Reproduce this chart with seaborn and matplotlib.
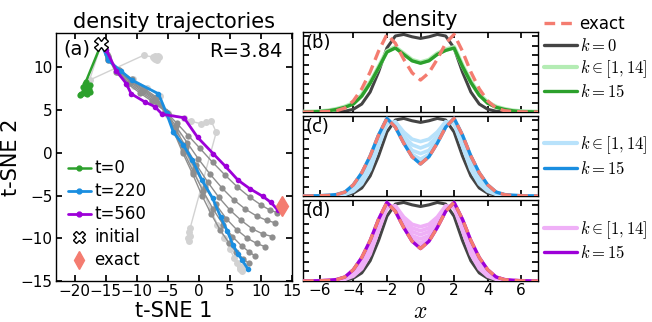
import numpy as np
import matplotlib
matplotlib.use("Agg")
import matplotlib.pyplot as plt
from matplotlib.lines import Line2D
import seaborn as sns

# ---------------- panel (a): t-SNE density trajectories ----------------
initial_pt = (-15.7, 12.75)
exact_pt = (13.4, -6.2)

t0_x = [-15.7, -18.2, -18.0, -18.5, -17.7, -18.9, -17.5, -18.3, -17.9, -18.6, -17.6, -18.4, -18.0, -17.8, -19.1, -18.1]
t0_y = [12.75, 8.3, 7.6, 7.2, 7.5, 6.9, 7.9, 7.0, 7.3, 7.7, 7.1, 8.0, 6.9, 7.6, 6.8, 7.4]

t220_x = [-15.7, -14.6, -12.6, -10.8, -6.5, -5.2, -4.1, -2.5, -1.1, 0.5, 2.2, 3.5, 4.6, 5.5, 6.3, 7.0, 7.9]
t220_y = [12.75, 10.8, 9.6, 8.5, 6.9, 4.6, 2.4, 0.9, -0.8, -3.2, -5.3, -7.5, -9.2, -10.8, -11.8, -12.6, -13.6]

t560_x = [-15.7, -14.9, -13.3, -11.7, -10.9, -8.7, -7.1, -5.9, -2.4, -0.2, 2.3, 4.3, 6.3, 8.2, 10.3, 11.6, 12.7]
t560_y = [12.75, 12.0, 9.6, 8.1, 6.9, 5.95, 5.4, 4.5, 4.1, 1.8, -0.1, -1.6, -3.2, -4.2, -5.1, -5.8, -6.7]

# other times (dark gray)
g1_x = [-15.7, -14.8, -13.4, -11.5, -9.5, -7.5, -5.5, -3.6, -1.7, 0.2, 2.2, 4.2, 6.2, 8.2, 10.0, 11.4, 12.6]
g1_y = [12.75, 11.5, 9.4, 8.1, 7.0, 6.0, 4.9, 3.5, 2.0, 0.5, -1.1, -2.6, -4.0, -5.2, -6.1, -6.7, -7.0]
g2_x = [-15.7, -14.7, -13.2, -11.3, -9.3, -7.3, -5.3, -3.7, -1.9, -0.1, 1.8, 3.7, 5.6, 7.5, 9.3, 10.9, 12.3]
g2_y = [12.75, 11.3, 9.5, 8.2, 7.1, 6.1, 4.8, 3.1, 1.2, -0.7, -2.5, -4.1, -5.5, -6.6, -7.4, -7.9, -8.2]
g3_x = [-15.7, -14.7, -13.1, -11.1, -9.1, -7.1, -5.2, -3.8, -2.1, -0.4, 1.4, 3.2, 5.0, 6.8, 8.6, 10.3, 11.8]
g3_y = [12.75, 11.2, 9.6, 8.3, 7.2, 6.2, 4.7, 2.8, 0.7, -1.4, -3.4, -5.2, -6.7, -7.9, -8.9, -9.5, -9.8]
g4_x = [-15.7, -14.6, -13.0, -11.0, -9.0, -7.0, -5.1, -3.9, -2.3, -0.7, 1.0, 2.7, 4.4, 6.1, 7.8, 9.3, 10.7]
g4_y = [12.75, 11.1, 9.6, 8.4, 7.3, 6.3, 4.6, 2.6, 0.4, -1.8, -4.0, -6.0, -7.7, -9.0, -10.0, -10.6, -11.0]
g5_x = [-15.7, -14.6, -12.9, -10.9, -8.9, -6.9, -5.0, -4.0, -2.5, -0.9, 0.7, 2.3, 3.9, 5.4, 6.9, 8.1, 9.1]
g5_y = [12.75, 11.0, 9.7, 8.5, 7.4, 6.4, 4.5, 2.5, 0.2, -2.2, -4.5, -6.6, -8.4, -9.8, -10.9, -11.6, -12.1]
g6_x = [-15.7, -14.6, -12.8, -10.8, -8.8, -6.8, -5.0, -4.0, -2.6, -1.0, 0.5, 2.0, 3.4, 4.8, 6.0, 7.1, 8.0]
g6_y = [12.75, 10.9, 9.7, 8.6, 7.5, 6.5, 4.5, 2.4, 0.0, -2.5, -5.0, -7.2, -9.0, -10.5, -11.6, -12.4, -12.9]

# early/odd times (light gray)
la_x = [-15.7, -17.6, -8.9, -7.4, -7.0, -6.6, -7.2, -6.8, -6.4, -7.1, -6.9]
la_y = [12.75, 8.5, 11.4, 11.2, 11.0, 11.3, 11.1, 10.9, 11.2, 11.3, 11.0]
lb_x = [-15.7, -14.7, -13.0, -10.5, -7.5, -5.0, -2.4, -1.3, 0.3, 1.2, 2.0, 2.8, -1.4, -1.6, -1.5, -1.7, -1.6]
lb_y = [12.75, 11.0, 9.5, 7.8, 6.2, 4.6, 4.1, 3.7, 3.4, 3.6, 3.7, 2.4, -8.8, -9.3, -9.7, -10.0, -10.3]
lc_x = [-15.7, -14.5, -12.7, -10.6, -8.3, -6.3, -4.9, -3.6, -2.2, -0.8, 0.6, 1.9, 3.0, 4.1, 5.0, 5.7, 6.2, 6.6, 6.9, 6.6, 7.1]
lc_y = [12.75, 10.9, 9.6, 8.6, 7.6, 6.6, 4.4, 2.2, 0.2, -2.1, -4.4, -6.6, -8.4, -10.0, -11.3, -12.3, -12.9, -13.4, -13.8, -13.6, -13.3]

# ---------------- panels (b)-(d): densities on x grid ----------------
x_grid = np.linspace(-7, 7, 29)

rho_exact = [0.0, 0.001, 0.003, 0.007, 0.017, 0.05, 0.14, 0.29, 0.50, 0.76, 0.97, 0.86, 0.66, 0.49, 0.40,
             0.49, 0.66, 0.86, 0.97, 0.76, 0.50, 0.29, 0.14, 0.05, 0.017, 0.007, 0.003, 0.001, 0.0]
rho_k0 = [0.0, 0.0, 0.0, 0.001, 0.003, 0.01, 0.035, 0.10, 0.25, 0.50, 0.80, 0.95, 0.97, 0.94, 0.92,
          0.94, 0.97, 0.95, 0.80, 0.50, 0.25, 0.10, 0.035, 0.01, 0.003, 0.001, 0.0, 0.0, 0.0]

b_k15 = [0.001, 0.003, 0.006, 0.015, 0.033, 0.06, 0.10, 0.20, 0.36, 0.55, 0.75, 0.80, 0.72, 0.64, 0.61,
         0.64, 0.72, 0.77, 0.80, 0.57, 0.37, 0.21, 0.11, 0.06, 0.033, 0.015, 0.006, 0.003, 0.001]
b_mid = [0.002, 0.004, 0.008, 0.018, 0.037, 0.066, 0.11, 0.21, 0.37, 0.56, 0.76, 0.81, 0.73, 0.65, 0.62,
         0.65, 0.73, 0.78, 0.81, 0.58, 0.38, 0.22, 0.12, 0.066, 0.037, 0.018, 0.008, 0.004, 0.002]

c_k15 = [0.0, 0.001, 0.003, 0.008, 0.018, 0.05, 0.14, 0.29, 0.50, 0.76, 0.97, 0.86, 0.66, 0.49, 0.40,
         0.49, 0.66, 0.86, 0.97, 0.76, 0.50, 0.29, 0.14, 0.05, 0.018, 0.008, 0.003, 0.001, 0.0]
c_mid1 = [0.0, 0.0, 0.001, 0.003, 0.008, 0.02, 0.06, 0.15, 0.33, 0.62, 0.90, 0.93, 0.80, 0.71, 0.68,
          0.71, 0.80, 0.93, 0.90, 0.62, 0.33, 0.15, 0.06, 0.02, 0.008, 0.003, 0.001, 0.0, 0.0]
c_mid2 = [0.0, 0.0, 0.002, 0.005, 0.011, 0.028, 0.08, 0.19, 0.39, 0.68, 0.93, 0.91, 0.75, 0.64, 0.60,
          0.64, 0.75, 0.91, 0.93, 0.68, 0.39, 0.19, 0.08, 0.028, 0.011, 0.005, 0.002, 0.0, 0.0]
c_mid3 = [0.0, 0.001, 0.002, 0.006, 0.014, 0.036, 0.10, 0.23, 0.44, 0.73, 0.95, 0.89, 0.71, 0.57, 0.53,
          0.57, 0.71, 0.89, 0.95, 0.73, 0.44, 0.23, 0.10, 0.036, 0.014, 0.006, 0.002, 0.001, 0.0]
c_mid4 = [0.0, 0.001, 0.003, 0.007, 0.016, 0.043, 0.12, 0.26, 0.47, 0.75, 0.96, 0.875, 0.68, 0.52, 0.46,
          0.52, 0.68, 0.875, 0.96, 0.75, 0.47, 0.26, 0.12, 0.043, 0.016, 0.007, 0.003, 0.001, 0.0]
c_mid5 = [0.0, 0.001, 0.003, 0.007, 0.017, 0.047, 0.13, 0.28, 0.49, 0.76, 0.97, 0.865, 0.67, 0.50, 0.43,
          0.50, 0.67, 0.865, 0.97, 0.76, 0.49, 0.28, 0.13, 0.047, 0.017, 0.007, 0.003, 0.001, 0.0]

d_k15 = [0.0, 0.001, 0.003, 0.008, 0.018, 0.05, 0.14, 0.29, 0.50, 0.76, 0.97, 0.86, 0.66, 0.49, 0.40,
         0.49, 0.66, 0.86, 0.97, 0.76, 0.50, 0.29, 0.14, 0.05, 0.018, 0.008, 0.003, 0.001, 0.0]
d_mid1 = [0.0, 0.0, 0.001, 0.003, 0.008, 0.02, 0.06, 0.15, 0.33, 0.62, 0.90, 0.93, 0.79, 0.70, 0.67,
          0.70, 0.79, 0.93, 0.90, 0.62, 0.33, 0.15, 0.06, 0.02, 0.008, 0.003, 0.001, 0.0, 0.0]
d_mid2 = [0.0, 0.0, 0.002, 0.005, 0.011, 0.028, 0.08, 0.19, 0.39, 0.68, 0.93, 0.915, 0.76, 0.655, 0.62,
          0.655, 0.76, 0.915, 0.93, 0.68, 0.39, 0.19, 0.08, 0.028, 0.011, 0.005, 0.002, 0.0, 0.0]
d_mid3 = [0.0, 0.001, 0.002, 0.006, 0.013, 0.033, 0.09, 0.21, 0.42, 0.71, 0.94, 0.90, 0.73, 0.61, 0.57,
          0.61, 0.73, 0.90, 0.94, 0.71, 0.42, 0.21, 0.09, 0.033, 0.013, 0.006, 0.002, 0.001, 0.0]
d_mid4 = [0.0, 0.001, 0.003, 0.007, 0.015, 0.04, 0.11, 0.24, 0.45, 0.74, 0.955, 0.885, 0.70, 0.56, 0.52,
          0.56, 0.70, 0.885, 0.955, 0.74, 0.45, 0.24, 0.11, 0.04, 0.015, 0.007, 0.003, 0.001, 0.0]
d_mid5 = [0.0, 0.001, 0.003, 0.007, 0.016, 0.044, 0.12, 0.26, 0.47, 0.75, 0.96, 0.875, 0.68, 0.525, 0.47,
          0.525, 0.68, 0.875, 0.96, 0.75, 0.47, 0.26, 0.12, 0.044, 0.016, 0.007, 0.003, 0.001, 0.0]
d_mid6 = [0.0, 0.001, 0.003, 0.007, 0.017, 0.047, 0.13, 0.28, 0.49, 0.76, 0.97, 0.865, 0.67, 0.50, 0.43,
          0.50, 0.67, 0.865, 0.97, 0.76, 0.49, 0.28, 0.13, 0.047, 0.017, 0.007, 0.003, 0.001, 0.0]

C_GREEN, C_LGREEN = "#2ca02c", "#b4ecb4"
C_BLUE, C_LBLUE = "#1a8ee0", "#b8e2fb"
C_PURP, C_LPURP = "#9d00d8", "#efb0f7"
C_EXACT = "#f47c70"
C_K0 = "#444444"
C_GRAY, C_LGRAY = "#8e8e8e", "#d2d2d2"

sns.set_theme(style="ticks")
plt.rcParams.update({
    "font.family": ["DejaVu Sans"],
    "mathtext.fontset": "cm",
    "text.color": "black", "axes.labelcolor": "black",
    "xtick.direction": "in", "ytick.direction": "in",
    "xtick.top": True, "ytick.right": True,
    "axes.edgecolor": "black", "axes.linewidth": 1.0,
    "xtick.color": "black", "ytick.color": "black",
    "xtick.major.size": 4, "ytick.major.size": 4,
    "xtick.major.pad": 2.5, "ytick.major.pad": 2.5,
    "xtick.labelsize": 11, "ytick.labelsize": 11,
})

fig = plt.figure(figsize=(6.52, 3.22), dpi=100)
ax_a = fig.add_axes([0.0859, 0.1273, 0.362, 0.770])
ax_b = fig.add_axes([0.4647, 0.652, 0.3605, 0.2486])
ax_c = fig.add_axes([0.4647, 0.3913, 0.3605, 0.2485])
ax_d = fig.add_axes([0.4647, 0.1273, 0.3605, 0.2516])


def traj(ax, xs, ys, color, lw, ms, z):
    sns.lineplot(x=xs, y=ys, sort=False, estimator=None, ax=ax, color=color, lw=lw,
                 marker="o", markersize=ms, markeredgewidth=0, zorder=z)


for xs, ys in [(la_x, la_y), (lb_x, lb_y), (lc_x, lc_y)]:
    traj(ax_a, xs, ys, C_LGRAY, 1.0, 5, 1)
for xs, ys in [(g1_x, g1_y), (g2_x, g2_y), (g3_x, g3_y), (g4_x, g4_y), (g5_x, g5_y), (g6_x, g6_y)]:
    traj(ax_a, xs, ys, C_GRAY, 1.0, 4.5, 2)
traj(ax_a, t0_x, t0_y, C_GREEN, 1.8, 4.5, 3)
traj(ax_a, t220_x, t220_y, C_BLUE, 2.0, 4, 4)
traj(ax_a, t560_x, t560_y, C_PURP, 2.0, 4, 5)
ax_a.plot(*exact_pt, marker="d", color=C_EXACT, ms=10, ls="none", zorder=6)
ax_a.plot(*initial_pt, marker="X", mfc="white", mec="black", mew=1.0, ms=10, ls="none", zorder=7)

ax_a.set_xlim(-23, 15)
ax_a.set_ylim(-15, 14)
ax_a.set_xticks([-20, -15, -10, -5, 0, 5, 10, 15])
ax_a.set_yticks([-15, -10, -5, 0, 5, 10])
ax_a.set_xlabel("t-SNE 1", fontsize=15, labelpad=1)
ax_a.set_ylabel("t-SNE 2", fontsize=15, labelpad=0)
ax_a.set_title("density trajectories", fontsize=15, pad=4)
ax_a.text(0.03, 0.975, "(a)", transform=ax_a.transAxes, fontsize=14, va="top", ha="left")
ax_a.text(0.96, 0.965, "R=3.84", transform=ax_a.transAxes, fontsize=14, va="top", ha="right")

handles_a = [
    Line2D([], [], color=C_GREEN, lw=1.8, marker="o", ms=3.5),
    Line2D([], [], color=C_BLUE, lw=2.0, marker="o", ms=3.5),
    Line2D([], [], color=C_PURP, lw=2.0, marker="o", ms=3.5),
    Line2D([], [], ls="none", marker="X", mfc="white", mec="black", mew=1.0, ms=9),
    Line2D([], [], ls="none", marker="d", color=C_EXACT, ms=9),
]
ax_a.legend(handles_a, ["t=0", "t=220", "t=560", "initial", "exact"], loc="lower left",
            bbox_to_anchor=(0.0, 0.0), frameon=False, fontsize=12, handlelength=1.4,
            handletextpad=0.2, labelspacing=0.3, borderaxespad=0.3)


def dens(ax, ys, color, lw, z, dashed=False):
    sns.lineplot(x=x_grid, y=ys, ax=ax, color=color, lw=lw, zorder=z, estimator=None)
    line = ax.lines[-1]
    if dashed:
        line.set_dashes((3.2, 1.8))
    return line


panels = [
    (ax_b, "(b)", [b_mid], C_LGREEN, b_k15, C_GREEN, True),
    (ax_c, "(c)", [c_mid1, c_mid2, c_mid3, c_mid4, c_mid5], C_LBLUE, c_k15, C_BLUE, False),
    (ax_d, "(d)", [d_mid1, d_mid2, d_mid3, d_mid4, d_mid5, d_mid6], C_LPURP, d_k15, C_PURP, False),
]
for ax, tag, mids, c_mid, k15, c_k15, first in panels:
    dens(ax, rho_k0, C_K0, 2.2, 2)
    for m in mids:
        dens(ax, m, c_mid, 3.2 if first else 2.6, 3)
    dens(ax, k15, c_k15, 2.4, 4)
    dens(ax, rho_exact, C_EXACT, 2.4, 5, dashed=True)
    ax.set_xlim(-7, 7)
    ax.set_ylim(0, 1.0)
    ax.set_xticks([-6, -4, -2, 0, 2, 4, 6])
    ax.set_yticks(np.arange(0, 1.0, 0.118))
    ax.set_yticklabels([])
    ax.set_ylabel("")
    ax.text(0.01, 0.97, tag, transform=ax.transAxes, fontsize=13, va="top", ha="left")
    if ax is not ax_d:
        ax.set_xticklabels([])

ax_d.tick_params(axis="x", pad=1.5)
ax_d.set_xlabel("$x$", fontsize=17, labelpad=0.5)
ax_b.set_title("density", fontsize=15, pad=4)

leg_kw = dict(frameon=False, fontsize=12, handlelength=2.0, handletextpad=0.15,
              labelspacing=0.2, borderaxespad=0.0, borderpad=0.2)
exact_h = Line2D([], [], color=C_EXACT, lw=2.4, dashes=(3.2, 1.8))
k0_h = Line2D([], [], color=C_K0, lw=2.4)
ax_b.legend([exact_h, k0_h, Line2D([], [], color=C_LGREEN, lw=3), Line2D([], [], color=C_GREEN, lw=2.4)],
            ["exact", "$k=0$", r"$k\in[1,14]$", "$k=15$"],
            loc="upper left", bbox_to_anchor=(1.01, 1.25), **leg_kw)
ax_c.legend([Line2D([], [], color=C_LBLUE, lw=3), Line2D([], [], color=C_BLUE, lw=2.4)],
            [r"$k\in[1,14]$", "$k=15$"], loc="center left", bbox_to_anchor=(1.01, 0.5), **leg_kw)
ax_d.legend([Line2D([], [], color=C_LPURP, lw=3), Line2D([], [], color=C_PURP, lw=2.4)],
            [r"$k\in[1,14]$", "$k=15$"], loc="center left", bbox_to_anchor=(1.01, 0.5), **leg_kw)

fig.savefig("out.png", dpi=100)
